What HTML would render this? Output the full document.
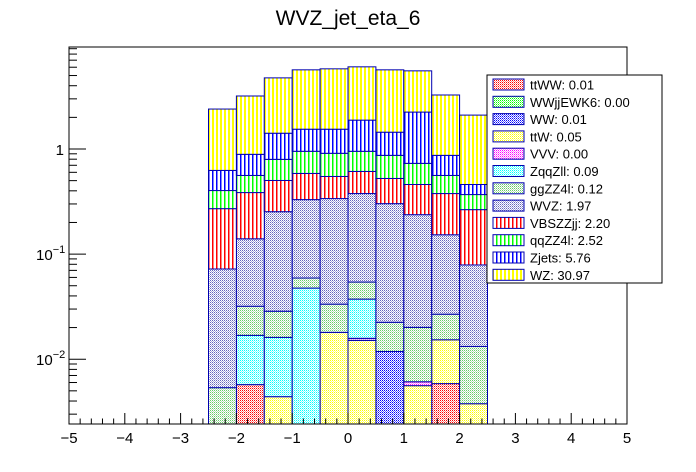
<!DOCTYPE html>
<html><head><meta charset="utf-8"><style>
body{margin:0;background:#fff}
svg{display:block;font-family:"Liberation Sans",Arial,sans-serif}
</style></head><body>
<svg id="c" width="696" height="472" viewBox="0 0 696 472">
<defs>
<pattern id="chk-red" width="2" height="2" patternUnits="userSpaceOnUse"><rect width="2" height="2" fill="#fff"/><rect width="1" height="1" fill="#f00"/><rect x="1" y="1" width="1" height="1" fill="#f88"/></pattern>
<pattern id="chk-green" width="2" height="2" patternUnits="userSpaceOnUse"><rect width="2" height="2" fill="#fff"/><rect width="1" height="1" fill="#0f0"/><rect x="1" y="1" width="1" height="1" fill="#8f8"/></pattern>
<pattern id="chk-blue" width="2" height="2" patternUnits="userSpaceOnUse"><rect width="2" height="2" fill="#fff"/><rect width="1" height="1" fill="#00f"/><rect x="1" y="1" width="1" height="1" fill="#66f"/></pattern>
<pattern id="chk-yellow" width="2" height="2" patternUnits="userSpaceOnUse"><rect width="2" height="2" fill="#fff"/><rect width="1" height="1" fill="#ff0"/><rect x="1" y="1" width="1" height="1" fill="#ff8"/></pattern>
<pattern id="chk-magenta" width="2" height="2" patternUnits="userSpaceOnUse"><rect width="2" height="2" fill="#fff"/><rect width="1" height="1" fill="#f0f"/><rect x="1" y="1" width="1" height="1" fill="#f8f"/></pattern>
<pattern id="chk-cyan" width="2" height="2" patternUnits="userSpaceOnUse"><rect width="2" height="2" fill="#fff"/><rect width="1" height="1" fill="#0ff"/><rect x="1" y="1" width="1" height="1" fill="#8ff"/></pattern>
<pattern id="chk-lgreen" width="2" height="2" patternUnits="userSpaceOnUse"><rect width="2" height="2" fill="#fff"/><rect width="1" height="1" fill="#6c6"/><rect x="1" y="1" width="1" height="1" fill="#bdb"/></pattern>
<pattern id="chk-wvz" width="2" height="2" patternUnits="userSpaceOnUse"><rect width="2" height="2" fill="#fff"/><rect width="1" height="1" fill="#66b"/><rect x="1" y="1" width="1" height="1" fill="#aad"/></pattern>
<pattern id="vs-red" width="4" height="4" patternUnits="userSpaceOnUse"><rect width="4" height="4" fill="#fff"/><rect width="1.5" height="4" fill="#f00"/></pattern>
<pattern id="vs-green" width="4" height="4" patternUnits="userSpaceOnUse"><rect width="4" height="4" fill="#fff"/><rect width="1.5" height="4" fill="#0f0"/></pattern>
<pattern id="vs-blue" width="4" height="4" patternUnits="userSpaceOnUse"><rect width="4" height="4" fill="#fff"/><rect width="1.5" height="4" fill="#00f"/></pattern>
<pattern id="vs-yellow" width="4" height="4" patternUnits="userSpaceOnUse"><rect width="4" height="4" fill="#fff"/><rect width="2" height="4" fill="#ff0"/></pattern>
<clipPath id="frameclip"><rect x="69" y="47" width="558" height="377"/></clipPath>
</defs>
<text x="348" y="25" text-anchor="middle" font-size="21">WVZ_jet_eta_6</text>
<g id="bars" clip-path="url(#frameclip)"></g>
<g id="axes"></g>
<g id="legend"></g>
</svg>
<script>
const binEdges = [-2.5,-2,-1.5,-1,-0.5,0,0.5,1,1.5,2,2.5];
const names = ["ttWW","WWjjEWK6","WW","ttW","VVV","ZqqZll","ggZZ4l","WVZ","VBSZZjj","qqZZ4l","Zjets","WZ"];
const legendTotals = ["0.01","0.00","0.01","0.05","0.00","0.09","0.12","1.97","2.20","2.52","5.76","30.97"];
const ttWW     = [0,0.00573,0,0,0,0,0,0,0.00586,0];
const WWjjEWK6 = [0,0,0,0,0,0,0,0,0,0];
const WW       = [0,0,0,0,0,0,0.01185,0,0,0];
const ttW      = [0,0,0.0044,0,0.018,0.0151,0,0.0056,0.00944,0.00377];
const VVV      = [0,0,0,0,0,0.0007,0,0.0005,0,0];
const ZqqZll   = [0,0.01113,0.01173,0.0475,0,0.0215,0,0,0,0];
const ggZZ4l   = [0.00536,0.01504,0.01247,0.0117,0.0154,0.0169,0.0106,0.01398,0.0115,0.00946];
const WVZ      = [0.0668,0.1079,0.2247,0.2708,0.3041,0.3226,0.2796,0.2171,0.1259,0.0656];
const VBSZZjj  = [0.1985,0.2452,0.2485,0.2555,0.2105,0.235,0.2224,0.2223,0.2241,0.1861];
const qqZZ4l   = [0.1318,0.1752,0.2952,0.3655,0.362,0.339,0.3456,0.2705,0.1834,0.1036];
const Zjets    = [0.223,0.3298,0.616,0.592,0.633,0.931,0.575,1.515,0.3098,0.091];
const WZ       = [1.774,2.304,3.337,4.122,4.247,4.168,4.22,3.295,2.395,1.642];
const series = [ttWW,WWjjEWK6,WW,ttW,VVV,ZqqZll,ggZZ4l,WVZ,VBSZZjj,qqZZ4l,Zjets,WZ];
const fills = ["chk-red","chk-green","chk-blue","chk-yellow","chk-magenta","chk-cyan","chk-lgreen","chk-wvz","vs-red","vs-green","vs-blue","vs-yellow"];
const xTicks = [-5,-4,-3,-2,-1,0,1,2,3,4,5];

const NS="http://www.w3.org/2000/svg";
const X0=69,X1=627,Y0=424,Y1=47;
const xs=v=>X0+(v+5)/10*(X1-X0);
const yref=149, dec=105.1;
const ys=v=>v<=0?Y0+5:yref-dec*Math.log10(v);
function mk(t,a,p){const e=document.createElementNS(NS,t);for(const k in a)e.setAttribute(k,a[k]);p.appendChild(e);return e;}

const bars=document.getElementById('bars');
const cum=new Array(binEdges.length-1).fill(0);
series.forEach((s,si)=>{
  const g=mk('g',{},bars);
  
  
  s.forEach((v,i)=>{
    if(v<=0)return;
    const lo=cum[i],hi=cum[i]+v;cum[i]=hi;
    const xa=xs(binEdges[i]),xb=xs(binEdges[i+1]);
    const ya=ys(hi),yb=ys(lo);
    const r=mk('rect',{x:xa,y:ya,width:xb-xa,height:yb-ya,fill:'url(#'+fills[si]+')',stroke:'#0000b0','stroke-width':1},g);
    
    
  });
});

const ax=document.getElementById('axes');
mk('rect',{x:X0,y:Y1,width:X1-X0,height:Y0-Y1,fill:'none',stroke:'#000','stroke-width':1},ax);
for(let k=0;k<=50;k++){
  const v=-5+k*0.2, x=xs(v), major=k%5===0;
  mk('line',{x1:x,x2:x,y1:Y0,y2:Y0-(major?11:5.5),stroke:'#000'},ax);
}
xTicks.forEach(v=>{
  const t=mk('text',{x:xs(v),y:Y0+19,'text-anchor':'middle','font-size':15},ax);
  t.textContent=(v<0?'\u2212'+(-v):String(v));
  
  
});
for(let e=-3;e<=0;e++){
  for(let m=1;m<=9;m++){
    const v=m*Math.pow(10,e), y=ys(v);
    if(y<Y1||y>Y0)continue;
    mk('line',{x1:X0,x2:X0+(m===1?17:8),y1:y,y2:y,stroke:'#000'},ax);
  }
}
[[0,'1'],[-1,'10'],[-2,'10']].forEach(([e,s])=>{
  const y=ys(Math.pow(10,e));
  const t=mk('text',{x:e===0?64:36,y:y+6,'text-anchor':e===0?'end':'start','font-size':15},ax);
  t.textContent=s;
  if(e<0){const sp=mk('tspan',{dy:-7,'font-size':11},t);sp.textContent=(e===-2?'\u22122':'\u22121');}
  
  
});

const lg=document.getElementById('legend');
mk('rect',{x:487,y:75,width:175,height:208,fill:'#fff',stroke:'#000'},lg);
names.forEach((n,i)=>{
  const y=79+i*17.3;
  const g=mk('g',{},lg);
  
  
  mk('rect',{x:493,y:y,width:31,height:11,fill:'url(#'+fills[i]+')',stroke:'#0000b0'},g);
  const t=mk('text',{x:530,y:y+10.5,'font-size':13},g);
  t.textContent=n+': '+legendTotals[i];
});
</script>
</body></html>
